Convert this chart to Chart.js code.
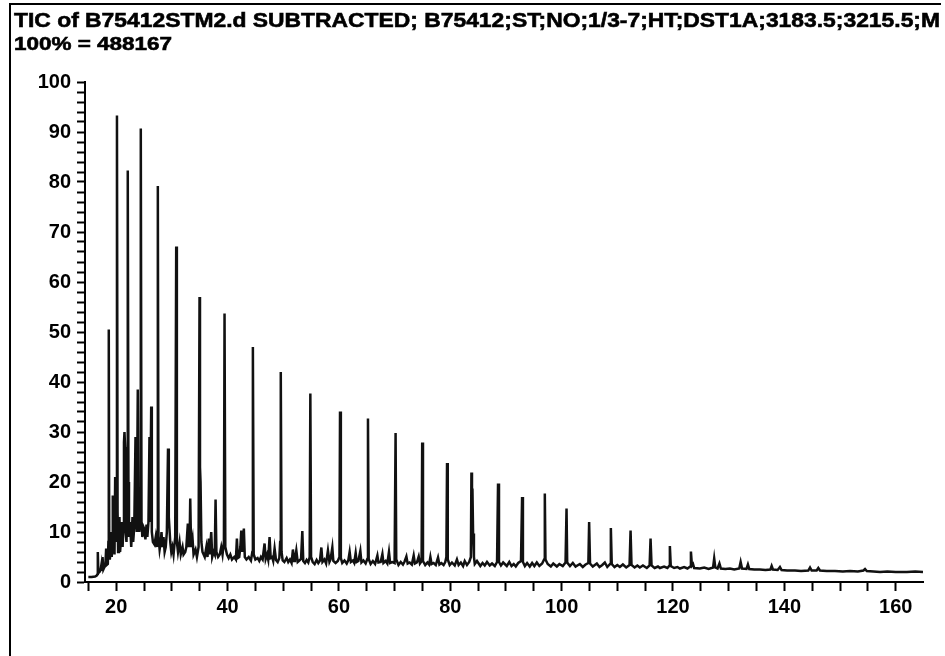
<!DOCTYPE html>
<html>
<head>
<meta charset="utf-8">
<title>TIC B75412STM2</title>
<script src="https://cdn.jsdelivr.net/npm/chart.js@4.4.1/dist/chart.umd.min.js"></script>
<style>
  html, body { margin: 0; padding: 0; background: #fff; }
  #tic { display: block; }
</style>
</head>
<body>
<canvas id="tic" width="945" height="656"></canvas>
<script>
// cabeçalho do relatório
const titleLine = 'TIC of B75412STM2.d SUBTRACTED; B75412;ST;NO;1/3-7;HT;DST1A;3183.5;3215.5;M';
const scaleLine = '100% = 488167';

// eixos
const xRange = [14.4, 164.9];
const yRange = [0, 100];
const xLabels = [20, 40, 60, 80, 100, 120, 140, 160];
const yLabels = [0, 10, 20, 30, 40, 50, 60, 70, 80, 90, 100];

// traço TIC: [tempo, % abundância]
const traceEarly = [
  [15.0, 1.0], [15.6, 1.0], [16.2, 1.1], [16.5, 1.3], [16.65, 1.6], [16.7, 6.0], [16.8, 1.8],
  [17.0, 2.0], [17.2, 2.4], [17.35, 3.5], [17.45, 2.2], [17.55, 5.0], [17.7, 2.5], [17.9, 3.0],
  [18.05, 3.2], [18.2, 6.7], [18.3, 3.4], [18.5, 3.6], [18.6, 8.0], [18.67, 50.5], [18.75, 9.0],
  [18.85, 4.5], [19.0, 6.0], [19.1, 10.0], [19.2, 5.0], [19.3, 7.0], [19.39, 17.3], [19.5, 6.5],
  [19.6, 9.0], [19.7, 5.5], [19.82, 21.0], [19.95, 8.0], [20.05, 12.0], [20.14, 93.3], [20.25, 14.0],
  [20.35, 6.0], [20.5, 8.5], [20.59, 13.0], [20.7, 6.0], [20.9, 9.0], [21.04, 12.0], [21.15, 7.0],
  [21.3, 11.0], [21.4, 28.0], [21.49, 30.0], [21.6, 27.0], [21.7, 10.0], [21.85, 8.0], [22.0, 15.0],
  [22.08, 82.3], [22.2, 20.0], [22.3, 9.0], [22.45, 12.0], [22.57, 10.0], [22.7, 7.0], [22.93, 13.0],
  [23.05, 8.0], [23.25, 11.0], [23.47, 29.0], [23.6, 14.0], [23.7, 10.0], [23.88, 38.5], [24.0, 12.0],
  [24.15, 10.0], [24.3, 12.0], [24.42, 90.7], [24.55, 12.0], [24.7, 9.0], [24.9, 11.0], [25.09, 10.5],
  [25.25, 8.5], [25.45, 11.5], [25.6, 9.0], [25.8, 12.0], [25.98, 29.0], [26.1, 12.0], [26.29, 35.1],
  [26.4, 10.0], [26.6, 8.0], [26.88, 7.5], [27.1, 9.0], [27.3, 7.0], [27.4, 10.0], [27.48, 79.2],
  [27.6, 9.0], [27.8, 6.5], [28.0, 8.0], [28.14, 10.0], [28.3, 7.0], [28.5, 9.0], [28.7, 6.0],
  [28.9, 7.0], [29.1, 10.0], [29.31, 26.7], [29.45, 13.0], [29.71, 8.0], [29.9, 6.0], [30.1, 7.0],
  [30.3, 5.5], [30.6, 9.0], [30.78, 67.1], [30.9, 8.0], [31.1, 6.0], [31.38, 8.0], [31.6, 5.5],
  [31.92, 7.0], [32.1, 5.5], [32.4, 6.0], [32.6, 7.0], [32.87, 11.7], [33.0, 7.0], [33.2, 9.0],
  [33.3, 16.7], [33.45, 7.0], [33.71, 8.7], [33.9, 5.5], [34.25, 6.5], [34.5, 5.0], [34.8, 7.0],
  [34.97, 57.0], [35.05, 23.0]
];

const traceMid = [
  [35.15, 20.0], [35.3, 8.0], [35.5, 6.0], [35.9, 5.0], [36.2, 7.0], [36.4, 5.0], [36.64, 8.7],
  [36.8, 5.5], [37.07, 10.0], [37.25, 5.0], [37.5, 6.0], [37.7, 5.5], [37.85, 16.5], [38.0, 6.0],
  [38.3, 5.0], [38.6, 5.5], [38.87, 7.0], [39.1, 5.5], [39.35, 8.0], [39.46, 53.7], [39.6, 7.0],
  [39.9, 5.5], [40.2, 4.8], [40.5, 5.5], [40.8, 4.5], [41.2, 5.0], [41.5, 4.5], [41.68, 8.7],
  [41.85, 4.8], [42.1, 5.0], [42.3, 7.0], [42.47, 10.3], [42.65, 6.0], [42.93, 10.7], [43.1, 5.0],
  [43.4, 4.5], [43.8, 5.0], [44.2, 4.3], [44.45, 6.0], [44.55, 47.0], [44.7, 5.5], [45.0, 4.5],
  [45.4, 4.8], [45.7, 4.2], [46.0, 5.0], [46.3, 4.5], [46.65, 7.7], [46.85, 4.6], [47.1, 5.5],
  [47.3, 4.5], [47.55, 9.0], [47.75, 4.8], [48.0, 5.0], [48.2, 4.2], [48.45, 6.7], [48.7, 4.4],
  [49.0, 4.0], [49.3, 4.8], [49.45, 8.0], [49.56, 42.0], [49.7, 6.0], [49.9, 4.3], [50.2, 4.0],
  [50.61, 4.8], [50.9, 4.0], [51.2, 4.5], [51.5, 3.8], [51.74, 6.5], [51.95, 4.2], [52.1, 4.5],
  [52.35, 6.3], [52.6, 4.0], [52.9, 4.3], [53.2, 4.6], [53.43, 10.2], [53.6, 4.2], [53.9, 3.8],
  [54.2, 4.4], [54.5, 3.9], [54.75, 5.0], [54.87, 37.7], [55.0, 5.0], [55.3, 4.0], [55.64, 3.6],
  [56.0, 4.4], [56.3, 3.8], [56.6, 4.3], [56.85, 6.9], [57.05, 4.0], [57.4, 4.5], [57.7, 3.7],
  [58.03, 6.3], [58.3, 4.0], [58.5, 4.5], [58.82, 6.9], [59.0, 4.2], [59.4, 3.8], [59.8, 4.2],
  [60.1, 5.0], [60.2, 34.1], [60.35, 4.8], [60.6, 3.8], [61.0, 4.3], [61.4, 3.7], [61.7, 4.4],
  [61.93, 6.0], [62.15, 4.0], [62.5, 4.3], [62.75, 3.8], [63.01, 5.8], [63.2, 4.0], [63.5, 4.2],
  [63.85, 6.2], [64.05, 3.9], [64.4, 4.3], [64.8, 3.7], [65.1, 4.6], [65.22, 32.7], [65.35, 4.6],
  [65.7, 3.6], [66.1, 4.2], [66.5, 3.6], [66.91, 5.3], [67.1, 3.9], [67.5, 4.0], [67.81, 5.6],
  [68.0, 3.8], [68.4, 4.2], [68.7, 3.7], [68.99, 6.0], [69.2, 3.8], [69.6, 4.0], [70.0, 3.8],
  [70.18, 29.8], [70.3, 4.5], [70.7, 3.4], [71.1, 4.0], [71.5, 3.5], [71.8, 4.1], [72.12, 5.1],
  [72.35, 3.7], [72.7, 3.9], [73.1, 3.5], [73.43, 5.3], [73.65, 3.7], [74.0, 3.9], [74.33, 5.1],
  [74.55, 3.7], [74.85, 4.2], [74.96, 27.9], [75.1, 4.2], [75.5, 3.4], [75.9, 3.9], [76.2, 3.5],
  [76.43, 5.0], [76.65, 3.6], [77.0, 3.8], [77.4, 3.4], [77.8, 4.9], [78.05, 3.5], [78.4, 3.8],
  [78.8, 3.4], [79.1, 4.0], [79.3, 5.0], [79.42, 23.8], [79.55, 4.5], [79.9, 3.4]
];

const traceLate = [
  [80.3, 3.9], [80.8, 3.3], [81.2, 4.5], [81.5, 3.4], [81.9, 3.9], [82.3, 3.2], [82.6, 4.2],
  [83.0, 3.4], [83.4, 4.0], [83.7, 5.0], [83.8, 21.9], [83.9, 12.0], [83.98, 18.7], [84.1, 9.7],
  [84.25, 5.0], [84.4, 3.6], [84.8, 4.2], [85.4, 3.2], [85.8, 3.8], [86.19, 3.3], [86.6, 4.0],
  [87.09, 3.3], [87.5, 3.7], [88.0, 3.2], [88.4, 4.0], [88.58, 19.7], [88.75, 4.0], [89.1, 3.3],
  [89.5, 3.9], [90.15, 3.2], [90.6, 4.0], [91.0, 3.2], [91.4, 3.6], [91.77, 3.1], [92.2, 3.8],
  [92.7, 4.2], [92.9, 17.0], [93.05, 4.0], [93.4, 3.2], [93.8, 3.8], [94.28, 3.1], [94.7, 3.8],
  [95.1, 3.2], [95.54, 3.9], [96.0, 3.2], [96.5, 3.7], [96.85, 4.5], [96.98, 17.7], [97.1, 4.5],
  [97.5, 3.6], [98.06, 3.1], [98.5, 3.7], [99.14, 3.1], [99.6, 3.6], [100.2, 3.2], [100.7, 3.9],
  [100.88, 14.7], [101.0, 3.9], [101.5, 3.2], [102.01, 3.8], [102.5, 3.1], [103.27, 3.6], [103.8, 3.0],
  [104.3, 3.5], [104.8, 3.8], [104.94, 12.0], [105.1, 3.7], [105.6, 3.1], [106.32, 3.7], [106.8, 3.0],
  [107.3, 3.4], [107.76, 3.9], [108.2, 3.0], [108.7, 3.6], [108.84, 10.8], [109.0, 3.6], [109.5, 3.0],
  [110.0, 3.4], [110.46, 3.0], [111.0, 3.5], [111.6, 2.9], [112.2, 3.4], [112.38, 10.3], [112.55, 3.4],
  [113.1, 2.9], [113.6, 3.3], [114.05, 2.9], [114.6, 3.3], [115.3, 2.8], [115.8, 3.3], [115.97, 8.7],
  [116.15, 3.3], [116.7, 2.8], [117.3, 3.1], [117.65, 2.8], [118.4, 3.1], [119.0, 2.8], [119.3, 3.2],
  [119.44, 7.2], [119.6, 3.2], [120.2, 2.8], [120.8, 3.0], [121.24, 2.7], [122.0, 3.0], [122.6, 2.7],
  [123.1, 3.1], [123.22, 6.1], [123.4, 3.3], [123.6, 3.6], [123.8, 2.8], [124.83, 2.7], [125.6, 2.9],
  [126.4, 2.6], [127.2, 2.9], [127.4, 4.7], [127.6, 2.9], [128.0, 2.7], [128.34, 3.7], [128.6, 2.7],
  [129.4, 2.6], [130.23, 2.7], [131.0, 2.5], [131.9, 2.7], [132.15, 4.0], [132.4, 2.7], [133.2, 2.6],
  [133.46, 3.5], [133.7, 2.6], [134.6, 2.5], [135.62, 2.5], [136.6, 2.4], [137.5, 2.5], [137.72, 3.2],
  [137.95, 2.5], [138.8, 2.4], [139.21, 3.0], [139.5, 2.4], [140.5, 2.3], [141.91, 2.3], [143.0, 2.2],
  [144.3, 2.3], [144.61, 2.9], [144.9, 2.3], [145.8, 2.3], [146.1, 2.8], [146.4, 2.3], [147.6, 2.2],
  [149.1, 2.2], [150.5, 2.1], [151.8, 2.2], [153.2, 2.1], [154.2, 2.3], [154.49, 2.6], [154.8, 2.2],
  [156.0, 2.1], [157.19, 2.0], [158.5, 2.1], [160.0, 2.0], [160.79, 2.0], [162.0, 2.0], [163.5, 2.1],
  [164.9, 2.0]
];

const FONT = '"Liberation Sans", Arial, sans-serif';
const tickFont = { family: FONT, size: 20, weight: 'bold' };

// escreve o texto esticado até a largura pedida
function drawStretched(c, text, x, y, width) {
  const w = c.measureText(text).width;
  c.save();
  c.translate(x, y);
  c.scale(width / w, 1);
  c.fillText(text, 0, 0);
  c.strokeText(text, 0, 0);
  c.restore();
}

// moldura + cabeçalho desenhados por cima do gráfico
const headerPlugin = {
  id: 'header',
  afterDraw(chart) {
    const c = chart.ctx;
    c.save();
    c.fillStyle = '#000';
    c.strokeStyle = '#000';
    c.lineWidth = 0.6;
    c.fillRect(10, 3, 931, 2);   // linha superior
    c.fillRect(9, 3, 2, 653);    // linha esquerda
    c.textBaseline = 'alphabetic';
    c.font = 'bold 21px ' + FONT;
    drawStretched(c, titleLine, 14, 27, 926);
    c.font = 'bold 19px ' + FONT;
    drawStretched(c, scaleLine, 14, 50, 158);
    c.restore();
  }
};

const points = [...traceEarly, ...traceMid, ...traceLate].map(p => ({ x: p[0], y: p[1] }));

new Chart(document.getElementById('tic'), {
  type: 'line',
  data: {
    datasets: [{
      data: points,
      borderColor: '#111',
      borderWidth: 2.5,
      pointRadius: 0,
      tension: 0,
      fill: false
    }]
  },
  options: {
    responsive: false,
    animation: false,
    events: [],
    layout: { padding: { left: 0, top: 82, right: 22, bottom: 0 } },
    plugins: { legend: { display: false }, tooltip: { enabled: false } },
    scales: {
      x: {
        type: 'linear',
        min: xRange[0],
        max: xRange[1],
        afterFit: s => { s.height = 74; },
        border: { color: '#000', width: 2 },
        grid: { drawOnChartArea: false, tickLength: 9, tickWidth: 2, tickColor: '#000' },
        ticks: {
          stepSize: 5,
          includeBounds: false,
          autoSkip: false,
          maxRotation: 0,
          padding: 4,
          color: '#000',
          font: tickFont,
          callback: v => xLabels.includes(v) ? String(v) : ''
        }
      },
      y: {
        min: yRange[0],
        max: yRange[1],
        afterFit: s => { s.width = 85; },
        border: { color: '#000', width: 2 },
        grid: { drawOnChartArea: false, tickLength: 8, tickWidth: 2, tickColor: '#000' },
        ticks: {
          stepSize: 2,
          autoSkip: false,
          padding: 6,
          color: '#000',
          font: tickFont,
          callback: v => yLabels.includes(v) ? String(v) : ''
        }
      }
    }
  },
  plugins: [headerPlugin]
});
</script>
</body>
</html>
